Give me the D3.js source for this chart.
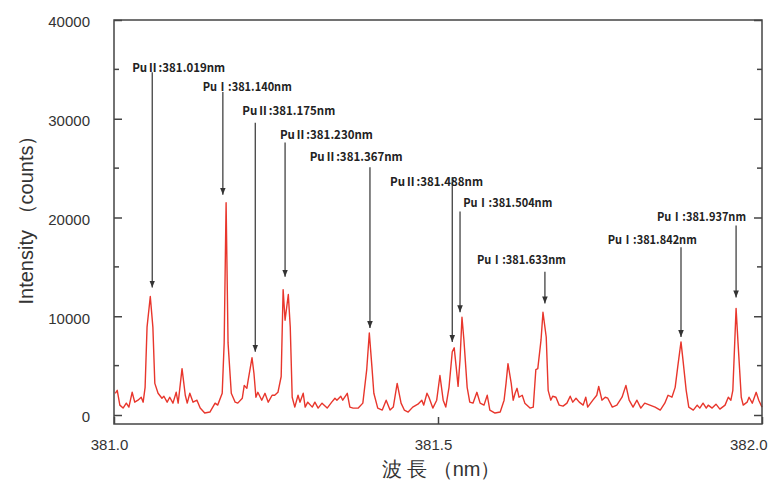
<!DOCTYPE html>
<html>
<head>
<meta charset="utf-8">
<script src="https://cdn.jsdelivr.net/npm/d3@7"></script>
<style>
  body { margin: 0; background: #fff; }
  svg text { font-family: "Liberation Sans", Arial, sans-serif; }
  svg text.peak { font-family: "Noto Sans CJK JP", "Liberation Sans", sans-serif; }
</style>
</head>
<body>
<div id="chart"></div>
<script>
// spectrum: wavelength (nm) and intensity (counts)
const wavelength = [
  381.002, 381.005, 381.009, 381.014, 381.019, 381.023, 381.028, 381.032, 381.037, 381.042,
  381.045, 381.048, 381.051, 381.056, 381.060, 381.063, 381.068, 381.074, 381.077, 381.082,
  381.086, 381.091, 381.096, 381.099, 381.105, 381.110, 381.113, 381.117, 381.122, 381.128,
  381.133, 381.140, 381.148, 381.156, 381.160, 381.167, 381.170, 381.173, 381.176, 381.181,
  381.187, 381.191, 381.198, 381.201, 381.205, 381.207, 381.213, 381.216, 381.219, 381.222,
  381.228, 381.233, 381.238, 381.244, 381.248, 381.253, 381.258, 381.261, 381.264, 381.269,
  381.272, 381.275, 381.279, 381.284, 381.287, 381.292, 381.295, 381.299, 381.306, 381.310,
  381.315, 381.321, 381.329, 381.336, 381.341, 381.344, 381.350, 381.353, 381.360, 381.364,
  381.369, 381.377, 381.384, 381.390, 381.394, 381.398, 381.401, 381.407, 381.414, 381.420,
  381.426, 381.431, 381.437, 381.443, 381.448, 381.454, 381.461, 381.469, 381.475, 381.478,
  381.483, 381.486, 381.492, 381.498, 381.503, 381.508, 381.512, 381.517, 381.522, 381.525,
  381.528, 381.531, 381.534, 381.537, 381.540, 381.545, 381.549, 381.554, 381.560, 381.565,
  381.571, 381.576, 381.580, 381.588, 381.596, 381.602, 381.605, 381.608, 381.613, 381.616,
  381.619, 381.622, 381.625, 381.630, 381.634, 381.642, 381.647, 381.651, 381.654, 381.659,
  381.662, 381.667, 381.670, 381.674, 381.677, 381.682, 381.687, 381.693, 381.699, 381.704,
  381.708, 381.713, 381.718, 381.724, 381.728, 381.731, 381.739, 381.745, 381.748, 381.753,
  381.758, 381.762, 381.769, 381.776, 381.784, 381.790, 381.795, 381.801, 381.807, 381.813,
  381.819, 381.827, 381.835, 381.843, 381.850, 381.855, 381.861, 381.866, 381.870, 381.875,
  381.878, 381.883, 381.887, 381.894, 381.900, 381.904, 381.909, 381.914, 381.917, 381.923,
  381.929, 381.935, 381.943, 381.948, 381.952, 381.955, 381.960, 381.963, 381.968, 381.971,
  381.977, 381.980, 381.985, 381.991, 381.995, 382.000
];
const counts = [
  2200, 2500, 1000, 700, 1200, 800, 2300, 1300, 1500, 1800,
  1300, 2800, 8900, 12000, 8900, 3200, 2200, 1700, 1900, 1300,
  1800, 1200, 2300, 1200, 4700, 2000, 1200, 2200, 1300, 1500,
  700, 200, 300, 1200, 1000, 2200, 7300, 21500, 7300, 2200,
  1300, 1200, 1700, 3000, 2700, 3500, 5800, 4200, 1800, 2300,
  1500, 2200, 1300, 2000, 2000, 2300, 3900, 12700, 9600, 12200,
  8900, 1800, 800, 2000, 1300, 2200, 800, 1300, 800, 1300,
  700, 1200, 700, 1300, 1700, 1500, 1900, 1500, 2200, 800,
  700, 700, 1200, 4600, 8300, 4900, 2200, 700, 500, 1500,
  500, 800, 3200, 1200, 500, 300, 800, 1100, 1500, 1000,
  2200, 1800, 700, 1500, 4000, 1500, 800, 2800, 6400, 6800,
  4900, 2900, 5600, 9900, 7600, 2800, 1300, 1200, 2300, 1200,
  1000, 2000, 500, 200, 300, 1500, 3200, 5200, 3200, 1500,
  2200, 2700, 1800, 2000, 1200, 700, 800, 4600, 4700, 7600,
  10400, 7900, 2500, 1500, 1900, 1800, 1000, 900, 1200, 1900,
  1300, 1700, 1300, 1000, 1800, 800, 1500, 2000, 2900, 1500,
  1800, 1700, 800, 1000, 1800, 3000, 1500, 800, 1500, 700,
  1200, 1000, 800, 500, 1200, 2000, 1800, 2800, 4900, 7400,
  5600, 2500, 800, 500, 1000, 700, 1200, 700, 1000, 700,
  1100, 600, 1000, 1800, 1500, 2500, 10800, 7300, 1800, 1000,
  1300, 1800, 1200, 2300, 1500, 800
];

// peak annotations
const peakLabels = [
  "PuⅡ:381.019nm", "PuⅠ:381.140nm", "PuⅡ:381.175nm", "PuⅡ:381.230nm", "PuⅡ:381.367nm",
  "PuⅡ:381.488nm", "PuⅠ:381.504nm", "PuⅠ:381.633nm", "PuⅠ:381.842nm", "PuⅠ:381.937nm"
];
const arrowWl = [381.059, 381.168, 381.218, 381.264, 381.395, 381.522, 381.534, 381.665, 381.875, 381.960];
const labelWl = [381.028, 381.137, 381.198, 381.256, 381.302, 381.426, 381.539, 381.560, 381.762, 381.838];
const labelLevel = [34700, 32800, 30400, 28000, 25700, 23200, 21100, 15300, 17300, 19600];
const arrowTop = [34700, 32700, 29600, 27600, 25100, 24100, 20600, 14500, 17000, 19200];
const arrowTip = [12900, 22300, 6400, 14000, 8800, 7400, 10400, 11300, 7900, 11900];

const yTicks = [0, 10000, 20000, 30000, 40000];
const yMinor = [5000, 15000, 25000, 35000];
const xTicks = [381.0, 381.5, 382.0];

const W = 778, H = 480;
const plotL = 114, plotR = 762, plotT = 20, plotB = 424;

const svg = d3.select("#chart").append("svg")
    .attr("width", W)
    .attr("height", H);

const x = d3.scaleLinear().domain([381.0, 382.0]).range([plotL, plotR]);
const y = d3.scaleLinear().domain([0, 40000]).range([415, plotT]);

// spectrum line
const points = wavelength.map((w, i) => [w, counts[i]]);
svg.append("path")
    .datum(points)
    .attr("fill", "none")
    .attr("stroke", "#e8362c")
    .attr("stroke-width", 1.4)
    .attr("stroke-linejoin", "round")
    .attr("d", d3.line().x(d => x(d[0])).y(d => y(d[1])));

// frame
svg.append("rect")
    .attr("x", plotL).attr("y", plotT)
    .attr("width", plotR - plotL).attr("height", plotB - plotT)
    .attr("fill", "none")
    .attr("stroke", "#444")
    .attr("stroke-width", 1.5);

// left axis with labels, inward ticks
const yAxis = svg.append("g")
    .attr("transform", `translate(${plotL},0)`)
    .call(d3.axisLeft(y).tickValues(yTicks).tickSize(-8).tickPadding(24).tickFormat(d3.format("d")));
yAxis.select(".domain").remove();
yAxis.selectAll("line").attr("stroke", "#444").attr("stroke-width", 1.5);
yAxis.selectAll("text").attr("font-size", 15).attr("fill", "#333").attr("dy", "0.45em");

// right side ticks (mirror, no labels)
const yRight = svg.append("g")
    .attr("transform", `translate(${plotR},0)`)
    .call(d3.axisRight(y).tickValues(yTicks).tickSize(-8).tickFormat(""));
yRight.select(".domain").remove();
yRight.selectAll("line").attr("stroke", "#444").attr("stroke-width", 1.5);

// minor ticks on both sides
[[plotL, 5], [plotR, -5]].forEach(([px, len]) => {
  svg.append("g").selectAll("line")
    .data(yMinor)
    .join("line")
    .attr("x1", px).attr("x2", px + len)
    .attr("y1", d => y(d)).attr("y2", d => y(d))
    .attr("stroke", "#444").attr("stroke-width", 1.5);
});

// bottom axis
const xAxis = svg.append("g")
    .attr("transform", `translate(0,${plotB})`)
    .call(d3.axisBottom(x).tickValues(xTicks).tickSize(-7).tickPadding(15).tickFormat(d3.format(".1f")));
xAxis.select(".domain").remove();
xAxis.selectAll("line").attr("stroke", "#444").attr("stroke-width", 1.5);
xAxis.selectAll("text").attr("font-size", 15).attr("fill", "#333").attr("dx", -5);
xAxis.selectAll("text").filter(d => d === 382.0).attr("text-anchor", "end").attr("dx", 5);

// axis titles
svg.append("text")
    .attr("transform", `translate(26,215) rotate(-90)`)
    .attr("text-anchor", "middle")
    .attr("dy", "0.35em")
    .attr("font-size", 20)
    .attr("fill", "#333")
    .text("Intensity （counts）");

svg.append("text")
    .attr("x", 441).attr("y", 476)
    .attr("text-anchor", "middle")
    .attr("font-size", 20)
    .attr("fill", "#333")
    .text("波 長 （nm）");

// annotations: arrows + labels
svg.append("defs").append("marker")
    .attr("id", "arrowhead")
    .attr("viewBox", "0 0 10 10")
    .attr("refX", 10).attr("refY", 5)
    .attr("markerWidth", 7).attr("markerHeight", 7)
    .attr("markerUnits", "userSpaceOnUse")
    .attr("orient", "auto")
    .append("path")
    .attr("d", "M0,1 L10,5 L0,9 z")
    .attr("fill", "#333");

const ann = svg.append("g");
peakLabels.forEach((label, i) => {
  ann.append("line")
      .attr("x1", x(arrowWl[i])).attr("x2", x(arrowWl[i]))
      .attr("y1", y(arrowTop[i])).attr("y2", y(arrowTip[i]))
      .attr("stroke", "#333")
      .attr("stroke-width", 1.2)
      .attr("marker-end", "url(#arrowhead)");
  // the full-width roman numeral is squeezed to the narrow look of the original
  ann.append("text")
      .attr("class", "peak")
      .attr("x", x(labelWl[i]))
      .attr("y", y(labelLevel[i]))
      .attr("font-size", 12)
      .attr("font-weight", "bold")
      .attr("fill", "#222")
      .attr("textLength", label.includes("Ⅱ") ? 93 : 89)
      .attr("lengthAdjust", "spacingAndGlyphs")
      .text(label);
});
</script>
</body>
</html>
